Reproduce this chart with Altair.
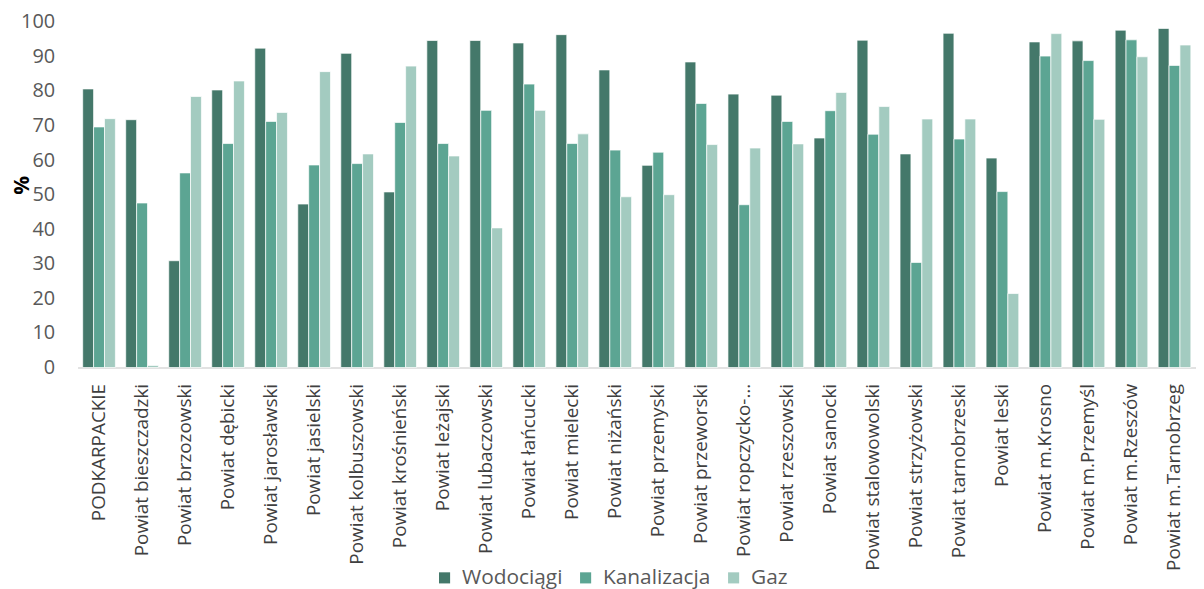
import altair as alt
import pandas as pd

categories = [
    "PODKARPACKIE", "Powiat bieszczadzki", "Powiat brzozowski", "Powiat dębicki",
    "Powiat jarosławski", "Powiat jasielski", "Powiat kolbuszowski", "Powiat krośnieński",
    "Powiat leżajski", "Powiat lubaczowski", "Powiat łańcucki", "Powiat mielecki",
    "Powiat niżański", "Powiat przemyski", "Powiat przeworski", "Powiat ropczycko-sędziszowski",
    "Powiat rzeszowski", "Powiat sanocki", "Powiat stalowowolski", "Powiat strzyżowski",
    "Powiat tarnobrzeski", "Powiat leski", "Powiat m.Krosno", "Powiat m.Przemyśl",
    "Powiat m.Rzeszów", "Powiat m.Tarnobrzeg",
]
wodociagi = [80.6, 71.7, 30.9, 80.3, 92.4, 47.3, 90.9, 50.8, 94.6, 94.6, 93.9, 96.3, 86.1,
             58.5, 88.4, 79.1, 78.8, 66.4, 94.7, 61.8, 96.7, 60.6, 94.2, 94.5, 97.6, 98.1]
kanalizacja = [69.6, 47.6, 56.3, 64.8, 71.2, 58.6, 59.0, 70.9, 64.8, 74.4, 82.0, 64.8, 62.9,
               62.3, 76.4, 47.1, 71.2, 74.3, 67.5, 30.4, 66.1, 50.9, 90.1, 88.8, 94.8, 87.4]
gaz = [72.0, 0.6, 78.4, 82.9, 73.8, 85.6, 61.8, 87.2, 61.2, 40.4, 74.4, 67.6, 49.4,
       50.0, 64.5, 63.5, 64.7, 79.6, 75.5, 71.9, 71.9, 21.4, 96.6, 71.8, 89.9, 93.3]
series = ["Wodociągi", "Kanalizacja", "Gaz"]
colors = ["#44786A", "#5CA593", "#A3CBC0"]

rows = []
for s, vals in zip(series, [wodociagi, kanalizacja, gaz]):
    for c, v in zip(categories, vals):
        rows.append({"Powiat": c, "Seria": s, "Wartosc": v})
df = pd.DataFrame(rows)

FONT = "Open Sans"

chart = alt.Chart(df).mark_bar(stroke="white", strokeWidth=0.7).encode(
    x=alt.X("Powiat:N", sort=categories,
            scale=alt.Scale(paddingInner=0.24, paddingOuter=0.12),
            axis=alt.Axis(title=None, labelAngle=-90, labelFontSize=19, labelColor="#404040",
                          labelFont=FONT, ticks=False, labelPadding=16, domainColor="#D9D9D9",
                          domainWidth=1.5, labelLimit=300,
                          labelExpr="datum.label == 'Powiat ropczycko-sędziszowski' ? 'Powiat ropczycko-…' : datum.label")),
    xOffset=alt.XOffset("Seria:N", sort=series, scale=alt.Scale(paddingInner=0, paddingOuter=0)),
    y=alt.Y("Wartosc:Q", scale=alt.Scale(domain=[0, 100], nice=False),
            axis=alt.Axis(title="%", values=list(range(0, 101, 10)), grid=False, domain=False,
                          ticks=False, labelFontSize=20, labelColor="#595959", labelFont=FONT,
                          labelPadding=23, titleFont=FONT, titleFontSize=21, titleFontWeight="bold",
                          titleColor="#000000", titleX=-55, titleY=164, titleAngle=-90,
                          titleAlign="center", titleBaseline="middle")),
    color=alt.Color("Seria:N", sort=series, scale=alt.Scale(domain=series, range=colors),
                    legend=alt.Legend(title=None, orient="none", direction="horizontal",
                                      legendX=359, legendY=549, symbolType="square",
                                      symbolSize=125, symbolStrokeWidth=0, labelFontSize=21,
                                      labelFont=FONT, labelColor="#595959", columnPadding=12,
                                      labelOffset=7, symbolOpacity=1)),
).properties(
    width=1126, height=348,
    autosize=alt.AutoSizeParams(type="none"),
    padding={"left": 70, "top": 12, "right": 0, "bottom": 221},
).configure_view(stroke=None)

chart.save("out.html", embed_options={"renderer": "svg", "actions": False})
